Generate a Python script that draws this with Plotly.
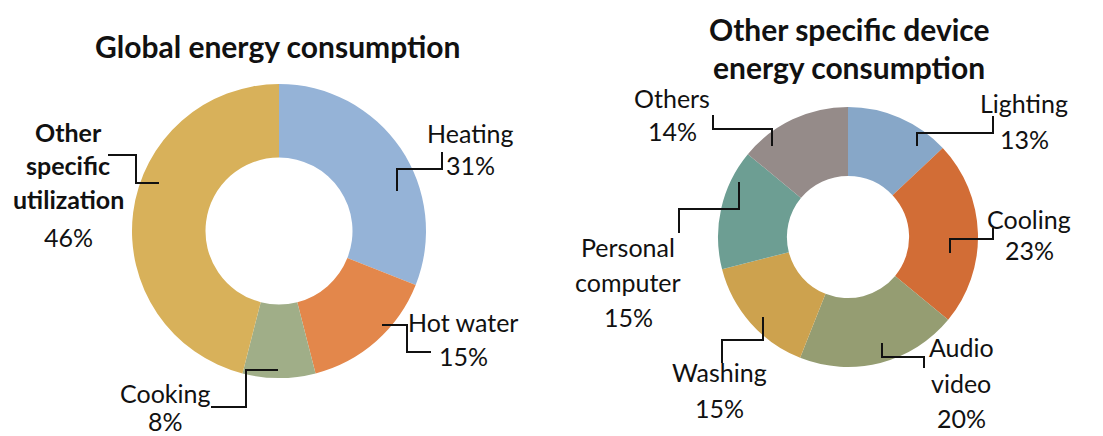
import plotly.graph_objects as go

# ---------------- data ----------------
global_labels = ["Heating", "Hot water", "Cooking", "Other specific utilization"]
global_values = [31, 15, 8, 46]
global_colors = ["#95B3D7", "#E3874B", "#A0AE88", "#D8B15A"]

device_labels = ["Lighting", "Cooling", "Audio video", "Washing", "Personal computer", "Others"]
device_values = [13, 23, 20, 15, 15, 14]
device_colors = ["#87A7C8", "#D26D36", "#959D72", "#CDA24E", "#6D9E93", "#958B89"]

title_left = ["Global energy consumption"]
title_right = ["Other specific device", "energy consumption"]

# how each label is wrapped in the picture
wrapped = {
    "Other specific utilization": ["Other", "specific", "utilization"],
    "Audio video": ["Audio", "video"],
    "Personal computer": ["Personal", "computer"],
}
bold_labels = {"Other specific utilization"}

W, H = 1103, 436
FONT = "Lato"

fig = go.Figure()

def px_dom(cx, cy, r):
    return dict(x=[(cx - r) / W, (cx + r) / W], y=[1 - (cy + r) / H, 1 - (cy - r) / H])

fig.add_trace(go.Pie(
    labels=global_labels, values=global_values, sort=False, direction="clockwise",
    rotation=0, hole=0.5, marker=dict(colors=global_colors, line=dict(width=0)),
    textinfo="none", hoverinfo="label+percent", domain=px_dom(279, 231, 147),
    showlegend=False,
))
fig.add_trace(go.Pie(
    labels=device_labels, values=device_values, sort=False, direction="clockwise",
    rotation=0, hole=0.47, marker=dict(colors=device_colors, line=dict(width=0)),
    textinfo="none", hoverinfo="label+percent", domain=px_dom(848, 237, 130),
    showlegend=False,
))

# label layout: x centre and the y centre of every text line (pixels)
label_pos = {
    "Heating": (470, [133, 165]),
    "Hot water": (463, [322, 356]),
    "Cooking": (165, [393, 421]),
    "Other specific utilization": (68, [132, 165, 199, 237]),
    "Lighting": (1024, [103, 139]),
    "Cooling": (1029, [219, 250]),
    "Audio video": (961, [347, 383, 418]),
    "Washing": (719, [372, 408]),
    "Personal computer": (628, [247, 282, 317]),
    "Others": (672, [98, 131]),
}
leaders = {
    "Heating": [(397, 191), (397, 169), (442, 169), (442, 152)],
    "Hot water": [(382, 325), (407, 325), (407, 352), (431, 352)],
    "Cooking": [(278, 370), (246, 370), (246, 407), (211, 407)],
    "Other specific utilization": [(159, 183), (136, 183), (136, 155), (108, 155)],
    "Lighting": [(917, 146), (917, 133), (993, 133), (993, 116)],
    "Cooling": [(950, 253), (950, 239), (993, 239), (993, 228)],
    "Audio video": [(882, 343), (882, 357), (924, 357), (924, 368)],
    "Washing": [(763, 317), (763, 340), (722, 340), (722, 363)],
    "Personal computer": [(739, 182), (739, 209), (679, 209), (679, 233)],
    "Others": [(772, 146), (772, 129), (713, 129), (713, 115)],
}

annotations = []
shapes = []

def add_text(x, y, txt, size, bold=False):
    annotations.append(dict(
        x=x, y=y, xref="x", yref="y", text=f"<b>{txt}</b>" if bold else txt,
        showarrow=False, font=dict(family=FONT, size=size, color="#111111"),
        xanchor="center", yanchor="middle", borderpad=0,
    ))

for labs, vals in ((global_labels, global_values), (device_labels, device_values)):
    for lab, v in zip(labs, vals):
        x, ys = label_pos[lab]
        lines = wrapped.get(lab, [lab])
        for i, line in enumerate(lines):
            add_text(x, ys[i], line, 25, bold=lab in bold_labels)
        add_text(x, ys[len(lines)], f"{v}%", 25)
        pts = leaders[lab]
        path = "M " + " L ".join(f"{a},{b}" for a, b in pts)
        shapes.append(dict(type="path", path=path, xref="x", yref="y",
                           line=dict(color="#111111", width=2)))

add_text(277, 46, title_left[0], 30, bold=True)
add_text(849, 29, title_right[0], 30, bold=True)
add_text(849, 67, title_right[1], 30, bold=True)

fig.update_layout(
    width=W, height=H, margin=dict(l=0, r=0, t=0, b=0),
    paper_bgcolor="white", plot_bgcolor="rgba(0,0,0,0)",
    xaxis=dict(range=[0, W], visible=False, fixedrange=True),
    yaxis=dict(range=[H, 0], visible=False, fixedrange=True),
    annotations=annotations, shapes=shapes, showlegend=False,
)

fig.write_html(
    "out.html",
    config={"displayModeBar": False},
    post_script="document.body.style.margin='0';document.body.style.padding='0';",
)
